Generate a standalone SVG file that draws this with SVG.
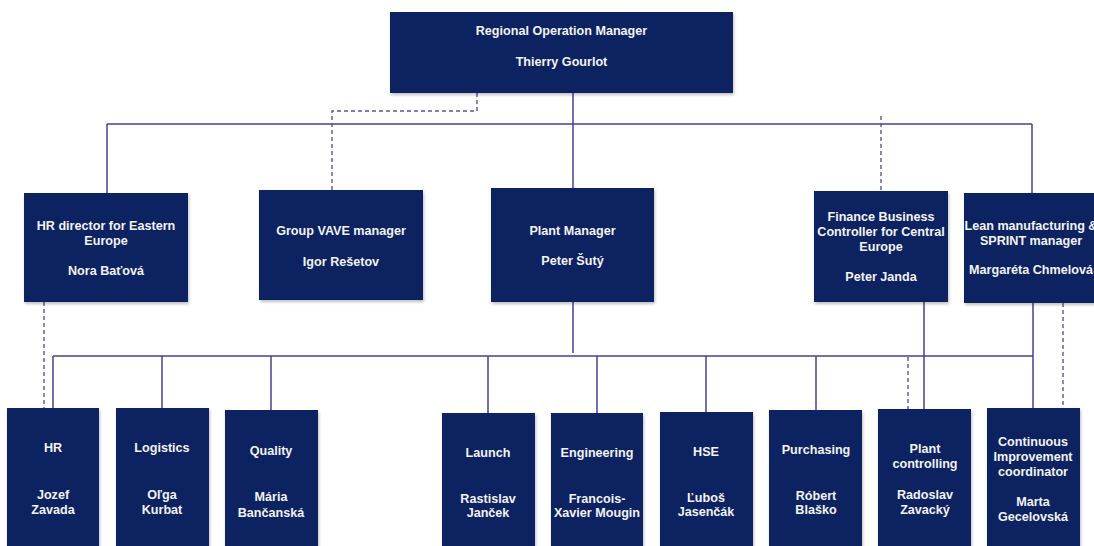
<svg xmlns="http://www.w3.org/2000/svg" width="1094" height="546" viewBox="0 0 1094 546">
<defs>
<filter id="sh" x="-10%" y="-10%" width="130%" height="130%">
<feDropShadow dx="1" dy="2" stdDeviation="1.5" flood-color="#000" flood-opacity="0.25"/>
</filter>
<style>
.box{fill:#0e2160;filter:url(#sh);}
.t{font-family:"Liberation Sans",Arial,sans-serif;font-weight:bold;font-size:12.6px;fill:#f2f2f4;text-anchor:middle;}
.ln{fill:none;stroke:#45418f;stroke-width:1.5;}
.dl{fill:none;stroke:#5a5699;stroke-width:1.4;stroke-dasharray:4 3;}
</style>
</defs>
<rect width="1094" height="546" fill="#ffffff"/>

<g id="connectors">
<path class="ln" d="M573,93 V188"/>
<path class="ln" d="M107,124 H1032"/>
<path class="ln" d="M107,124 V193"/>
<path class="ln" d="M1032,124 V193"/>
<path class="ln" d="M573,302 V353"/>
<path class="ln" d="M53,356 H1033"/>
<path class="ln" d="M53,356 V408"/>
<path class="ln" d="M162,356 V408"/>
<path class="ln" d="M271,356 V410"/>
<path class="ln" d="M488,356 V413"/>
<path class="ln" d="M597,356 V413"/>
<path class="ln" d="M706,356 V412"/>
<path class="ln" d="M816,356 V410"/>
<path class="ln" d="M924,302 V409"/>
<path class="ln" d="M1033,303 V408"/>
<path class="dl" d="M477,93 V111 H332 V190"/>
<path class="dl" d="M881,116 V191"/>
<path class="dl" d="M44,302 V408"/>
<path class="dl" d="M908,357 V409"/>
<path class="dl" d="M1063,303 V408"/>
</g>

<g id="regional-operation-manager">
<rect class="box" x="390" y="12" width="343" height="81"/>
<text class="t" x="561.5" y="35">Regional Operation Manager</text>
<text class="t" x="561.5" y="66">Thierry Gourlot</text>
</g>

<g id="hr-director">
<rect class="box" x="24" y="193" width="164" height="109"/>
<text class="t" x="106" y="230">HR director for Eastern</text>
<text class="t" x="106" y="245">Europe</text>
<text class="t" x="106" y="275">Nora Baťová</text>
</g>

<g id="vave-manager">
<rect class="box" x="259" y="190" width="164" height="110"/>
<text class="t" x="341" y="235">Group VAVE manager</text>
<text class="t" x="341" y="266">Igor Rešetov</text>
</g>

<g id="plant-manager">
<rect class="box" x="491" y="188" width="163" height="114"/>
<text class="t" x="572.5" y="235">Plant Manager</text>
<text class="t" x="572.5" y="265">Peter Šutý</text>
</g>

<g id="finance-controller">
<rect class="box" x="814" y="191" width="134" height="111"/>
<text class="t" x="881" y="221">Finance Business</text>
<text class="t" x="881" y="236">Controller for Central</text>
<text class="t" x="881" y="251">Europe</text>
<text class="t" x="881" y="281">Peter Janda</text>
</g>

<g id="lean-manager">
<rect class="box" x="964" y="193" width="140" height="110"/>
<text class="t" x="1031" y="230">Lean manufacturing &amp;</text>
<text class="t" x="1031" y="245">SPRINT manager</text>
<text class="t" x="1031" y="274">Margaréta Chmelová</text>
</g>

<g id="hr">
<rect class="box" x="7" y="408" width="92" height="150"/>
<text class="t" x="53" y="452">HR</text>
<text class="t" x="53" y="499">Jozef</text>
<text class="t" x="53" y="514">Zavada</text>
</g>

<g id="logistics">
<rect class="box" x="116" y="408" width="93" height="150"/>
<text class="t" x="162" y="452">Logistics</text>
<text class="t" x="162" y="499">Oľga</text>
<text class="t" x="162" y="514">Kurbat</text>
</g>

<g id="quality">
<rect class="box" x="225" y="410" width="93" height="150"/>
<text class="t" x="271" y="455">Quality</text>
<text class="t" x="271" y="501">Mária</text>
<text class="t" x="271" y="517">Bančanská</text>
</g>

<g id="launch">
<rect class="box" x="442" y="413" width="93" height="150"/>
<text class="t" x="488" y="457">Launch</text>
<text class="t" x="488" y="503">Rastislav</text>
<text class="t" x="488" y="517">Janček</text>
</g>

<g id="engineering">
<rect class="box" x="551" y="413" width="92" height="150"/>
<text class="t" x="597" y="457">Engineering</text>
<text class="t" x="597" y="503">Francois-</text>
<text class="t" x="597" y="517">Xavier Mougin</text>
</g>

<g id="hse">
<rect class="box" x="660" y="412" width="93" height="150"/>
<text class="t" x="706" y="456">HSE</text>
<text class="t" x="706" y="502">Ľuboš</text>
<text class="t" x="706" y="516">Jasenčák</text>
</g>

<g id="purchasing">
<rect class="box" x="769" y="410" width="93" height="150"/>
<text class="t" x="816" y="454">Purchasing</text>
<text class="t" x="816" y="500">Róbert</text>
<text class="t" x="816" y="514">Blaško</text>
</g>

<g id="plant-controlling">
<rect class="box" x="878" y="409" width="93" height="150"/>
<text class="t" x="925" y="453">Plant</text>
<text class="t" x="925" y="468">controlling</text>
<text class="t" x="925" y="499">Radoslav</text>
<text class="t" x="925" y="514">Zavacký</text>
</g>

<g id="ci-coordinator">
<rect class="box" x="987" y="408" width="93" height="150"/>
<text class="t" x="1033" y="446">Continuous</text>
<text class="t" x="1033" y="461">Improvement</text>
<text class="t" x="1033" y="476">coordinator</text>
<text class="t" x="1033" y="506">Marta</text>
<text class="t" x="1033" y="521">Gecelovská</text>
</g>
</svg>
